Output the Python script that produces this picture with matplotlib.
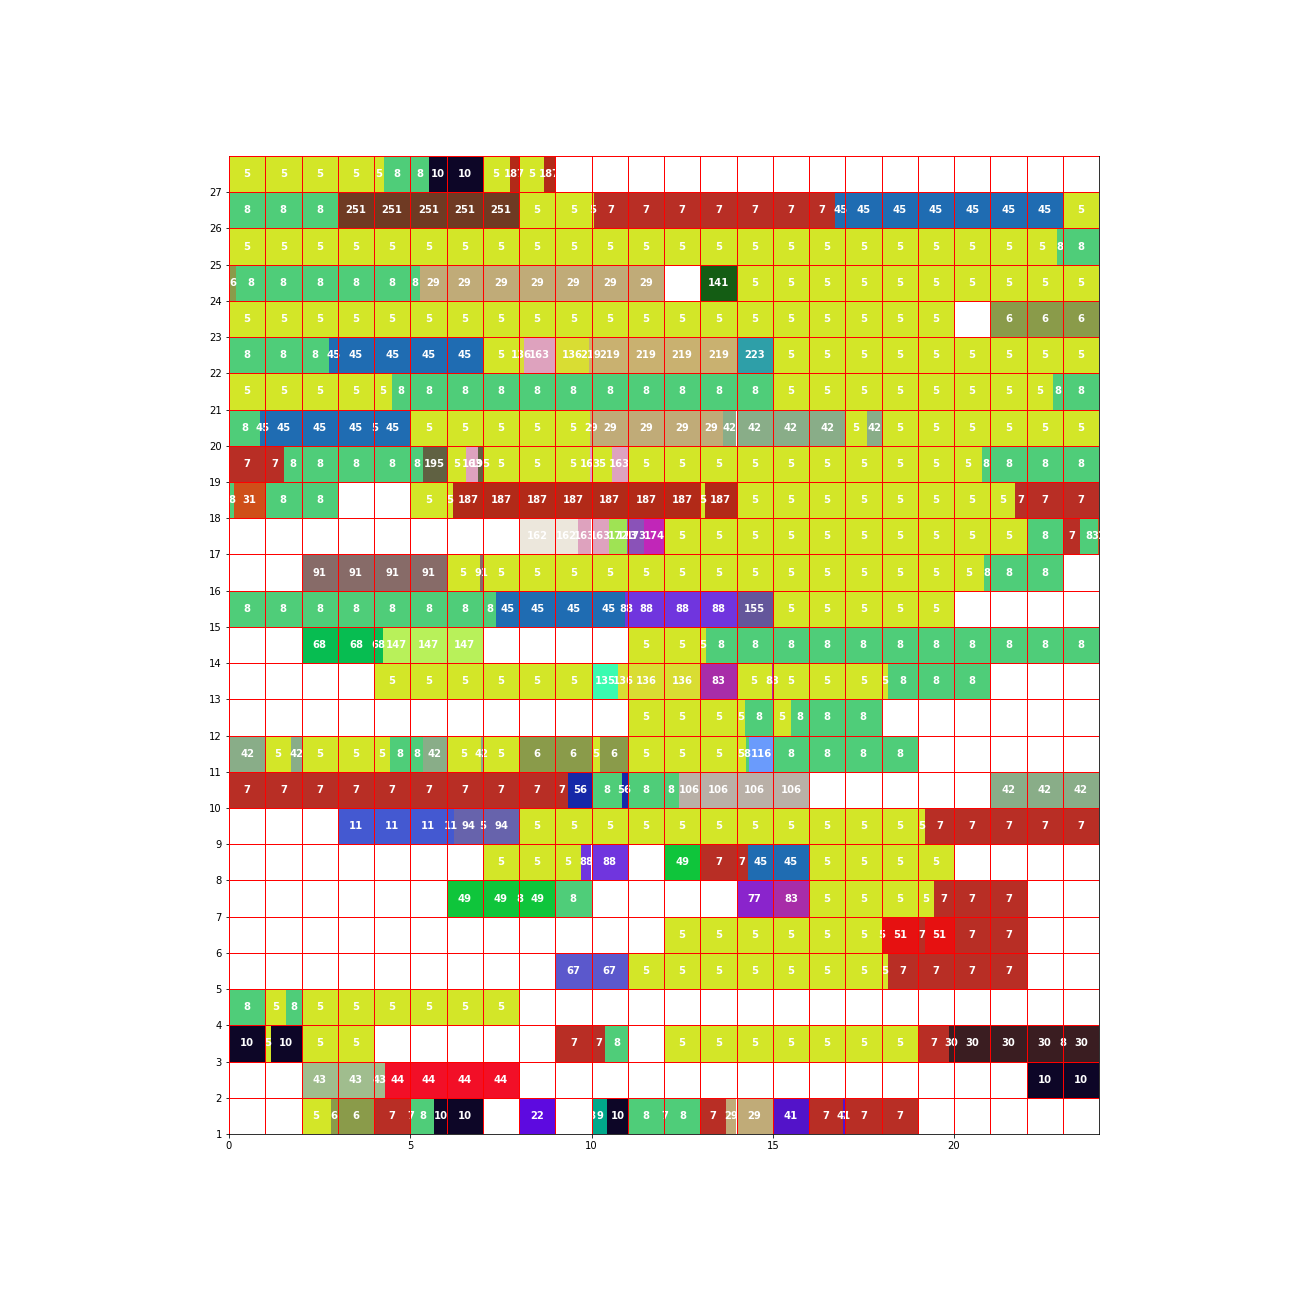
import matplotlib
matplotlib.use('Agg')
import matplotlib.pyplot as plt

# (start hour, end hour, activity code) for every day, bottom row = day 1
day01 = [(2, 2.81, 5), (2.81, 4, 6), (4, 5.03, 7), (5.03, 5.66, 8), (5.66, 7, 10), (8, 9, 22),
         (10, 10.02, 8), (10.02, 10.44, 9), (10.44, 11, 10), (11, 12, 8), (12, 12.04, 7),
         (12.04, 13, 8), (13, 13.71, 7), (13.71, 15, 29), (15, 16, 41), (16, 16.95, 7),
         (16.95, 16.98, 41), (16.98, 19, 7)]
day02 = [(2, 4.29, 43), (4.29, 8, 44), (22, 24, 10)]
day03 = [(0, 1, 10), (1, 1.16, 5), (1.16, 2, 10), (2, 4, 5), (9, 10.38, 7), (10.38, 11, 8),
         (12, 19, 5), (19, 19.86, 7), (19.86, 23, 30), (23, 23.02, 8), (23.02, 24, 30)]
day04 = [(0, 1, 8), (1, 1.57, 5), (1.57, 2, 8), (2, 8, 5)]
day05 = [(9, 11, 67), (11, 18.18, 5), (18.18, 22, 7)]
day06 = [(12, 18.02, 5), (18.02, 19, 51), (19, 19.2, 7), (19.2, 20, 51), (20, 22, 7)]
day07 = [(6, 8, 49), (8, 8.03, 8), (8.03, 9, 49), (9, 10, 8), (14, 15, 77), (15, 16, 83),
         (16, 19.45, 5), (19.45, 22, 7)]
day08 = [(7, 9.71, 5), (9.71, 11, 88), (12, 13, 49), (13, 14.31, 7), (14.31, 16, 45), (16, 20, 5)]
day09 = [(3, 6.22, 11), (6.22, 7, 94), (7, 7.02, 5), (7.02, 8, 94), (8, 19.2, 5), (19.2, 24, 7)]
day10 = [(0, 9.36, 7), (9.36, 10, 56), (10, 10.83, 8), (10.83, 11, 56), (11, 12.4, 8),
         (12.4, 16, 106), (21, 24, 42)]
day11 = [(0, 1, 42), (1, 1.71, 5), (1.71, 2, 42), (2, 4.44, 5), (4.44, 5.35, 8), (5.35, 6, 42),
         (6, 6.95, 5), (6.95, 7, 42), (7, 8, 5), (8, 10, 6), (10, 10.23, 5), (10.23, 11, 6),
         (11, 14.25, 5), (14.25, 14.35, 8), (14.35, 15, 116), (15, 19, 8)]
day12 = [(11, 14.23, 5), (14.23, 15, 8), (15, 15.5, 5), (15.5, 18, 8)]
day13 = [(4, 10, 5), (10, 10.74, 135), (10.74, 13, 136), (13, 14, 83), (14, 14.97, 5),
         (14.97, 15, 83), (15, 18.18, 5), (18.18, 21, 8)]
day14 = [(2, 4.25, 68), (4.25, 7, 147), (11, 13.16, 5), (13.16, 24, 8)]
day15 = [(0, 7.37, 8), (7.37, 10.92, 45), (10.92, 14, 88), (14, 15, 155), (15, 20, 5)]
day16 = [(2, 6, 91), (6, 6.92, 5), (6.92, 7, 91), (7, 20.83, 5), (20.83, 23, 8)]
day17 = [(8, 9.62, 162), (9.62, 10.48, 163), (10.48, 10.97, 172), (10.97, 11.46, 173),
         (11.46, 12, 174), (12, 22, 5), (22, 23, 8), (23, 23.48, 7), (23.48, 23.96, 8),
         (23.96, 24, 31)]
day18 = [(0, 0.14, 8), (0.14, 1, 31), (1, 3, 8), (5, 6.18, 5), (6.18, 13, 187), (13, 13.13, 5),
         (13.13, 14, 187), (14, 21.68, 5), (21.68, 24, 7)]
day19 = [(0, 1.52, 7), (1.52, 5.35, 8), (5.35, 6, 195), (6, 6.54, 5), (6.54, 6.88, 163),
         (6.88, 7, 195), (7, 9.95, 5), (9.95, 10, 163), (10, 10.56, 5), (10.56, 11, 163),
         (11, 20.76, 5), (20.76, 24, 8)]
day20 = [(0, 0.86, 8), (0.86, 4, 45), (4, 4.03, 5), (4.03, 5, 45), (5, 9.97, 5), (9.97, 13.62, 29),
         (13.62, 17, 42), (17, 17.6, 5), (17.6, 18, 42), (18, 24, 5)]
day21 = [(0, 4.49, 5), (4.49, 15, 8), (15, 22.74, 5), (22.74, 24, 8)]
day22 = [(0, 2.76, 8), (2.76, 7, 45), (7, 8, 5), (8, 8.14, 136), (8.14, 9, 163), (9, 9.94, 136),
         (9.94, 14, 219), (14, 15, 223), (15, 24, 5)]
day23 = [(0, 20, 5), (21, 24, 6)]
day24 = [(0, 0.19, 6), (0.19, 5.27, 8), (5.27, 12, 29), (13, 14, 141), (14, 24, 5)]
day25 = [(0, 22.83, 5), (22.83, 24, 8)]
day26 = [(0, 3, 8), (3, 8, 251), (8, 10.07, 5), (10.07, 16.72, 7), (16.72, 23, 45), (23, 24, 5)]
day27 = [(0, 4.27, 5), (4.27, 5.52, 8), (5.52, 7, 10), (7, 7.74, 5), (7.74, 8, 187),
         (8, 8.68, 5), (8.68, 9, 187)]

days = [day01, day02, day03, day04, day05, day06, day07, day08, day09, day10, day11, day12,
        day13, day14, day15, day16, day17, day18, day19, day20, day21, day22, day23, day24,
        day25, day26, day27]

colors = {5: '#d3e628', 6: '#8a9b4a', 7: '#b82e25', 8: '#4fcd79', 9: '#00a88a', 10: '#0d0627',
          11: '#4459d1', 22: '#5d0ae0', 29: '#c0ab78', 30: '#3a1d21', 31: '#cf4f19',
          41: '#5313c9', 42: '#89ad88', 43: '#a0bd8e', 44: '#f20f27', 45: '#1f6cb2',
          49: '#0fc53b', 51: '#e61111', 56: '#1528a8', 67: '#5b58cc', 68: '#07bd51',
          77: '#8a24cc', 83: '#a82da8', 88: '#7035de', 91: '#876b68', 94: '#6763ac',
          106: '#b9b0a7', 116: '#6a9bfc', 135: '#3afbb0', 136: '#d9dd33', 141: '#145d14',
          147: '#b8f15a', 155: '#64569b', 162: '#ece7dc', 163: '#dea2be', 172: '#9fe354',
          173: '#8a52b8', 174: '#c126b8', 187: '#b22a18', 195: '#606142', 219: '#c9b170',
          223: '#2e9fa8', 251: '#6f3a23'}

fig = plt.figure(figsize=(18, 18), dpi=72)
ax = fig.add_axes([229/1296, 162/1296, 870/1296, 978/1296])

for i, day in enumerate(days):
    y = i + 1
    for start, end, code in day:
        # cut every activity at the hour lines, one label per piece
        a = start
        while a < end - 1e-9:
            b = min(end, int(a + 1e-9) + 1)
            ax.barh(y, b - a, left=a, height=1, align='edge', color=colors[code], linewidth=0)
            ax.text((a + b) / 2, y + 0.5, str(code), color='white', fontsize=10,
                    fontweight='bold', ha='center', va='center')
            a = b

ax.vlines(range(0, 25), 1, 28, colors='red', linewidth=1, zorder=3)
ax.hlines(range(1, 29), 0, 24, colors='red', linewidth=1, zorder=3)

ax.set_xlim(0, 24)
ax.set_ylim(1, 28)
ax.set_yticks(range(1, 28))

fig.savefig('out.png', dpi=72)
